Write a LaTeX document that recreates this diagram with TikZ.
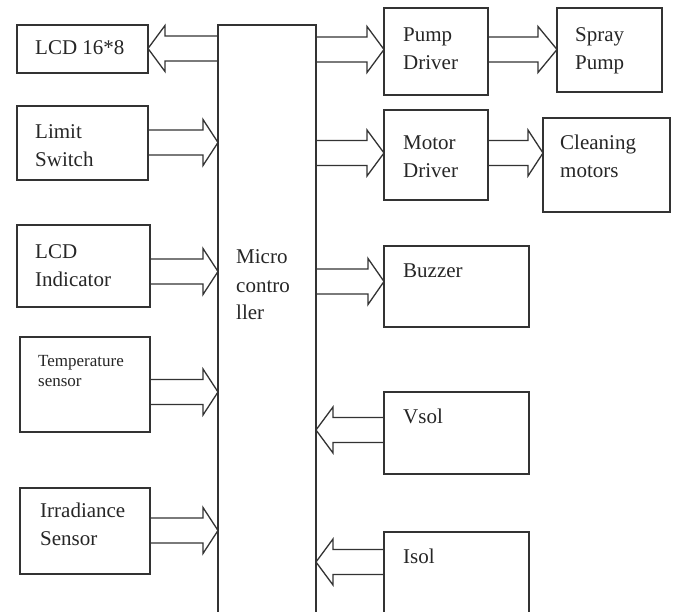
\documentclass[tikz,border=0pt]{standalone}
\usepackage{fontspec}
\setmainfont{Liberation Serif}
\usetikzlibrary{calc}
\definecolor{linec}{gray}{0.2}
\newcommand\bigfont{\fontsize{21}{28}\selectfont}
\newcommand\smallfont{\fontsize{17}{20}\selectfont}
% #1 start anchor, #2 tip anchor, #3 y centre, #4 signed head length
\newcommand\fatarr[4]{%
  \draw[arrline] ($(#1|-0,#3)+(0,12.5)$) -- ($(#2|-0,#3)+(-#4,12.5)$) -- ($(#2|-0,#3)+(-#4,23)$)
   -- (#2|-0,#3) -- ($(#2|-0,#3)+(-#4,-23)$) -- ($(#2|-0,#3)+(-#4,-12.5)$) -- ($(#1|-0,#3)+(0,-12.5)$);}
\begin{document}
\begin{tikzpicture}[x=1pt,y=1pt,
  box/.style={draw=linec,line width=1.3pt,inner sep=0pt,outer sep=0pt,anchor=north west},
  openbox/.style={inner sep=0pt,outer sep=0pt,anchor=north west},
  lbl/.style={anchor=base west,inner sep=0pt,font=\bigfont,align=left,text=black!85},
  slbl/.style={anchor=base west,inner sep=0pt,font=\smallfont,align=left,text=black!85},
  arrline/.style={draw=linec,line width=1.3pt,line join=miter}]
\useasboundingbox[fill=white] (0,0) rectangle (675,-612);
% left boxes
\node[box,minimum width=131,minimum height=48] (lcd) at (17,-25) {};
\node[box,minimum width=131,minimum height=74] (limit) at (17,-106) {};
\node[box,minimum width=133,minimum height=82] (lcdind) at (17,-225) {};
\node[box,minimum width=130,minimum height=95] (temp) at (20,-337) {};
\node[box,minimum width=130,minimum height=86] (irr) at (20,-488) {};
% micro controller (open at the bottom)
\node[openbox,minimum width=98,minimum height=590] (micro) at (218,-25) {};
\draw[linec,line width=1.3pt] (micro.south west) -- (micro.north west) -- (micro.north east) -- (micro.south east);
% right boxes
\node[box,minimum width=104,minimum height=87] (pump) at (384,-8) {};
\node[box,minimum width=105,minimum height=84] (spray) at (557,-8) {};
\node[box,minimum width=104,minimum height=90] (motor) at (384,-110) {};
\node[box,minimum width=127,minimum height=94] (clean) at (543,-118) {};
\node[box,minimum width=145,minimum height=81] (buzzer) at (384,-246) {};
\node[box,minimum width=145,minimum height=82] (vsol) at (384,-392) {};
\node[openbox,minimum width=145,minimum height=84] (isol) at (384,-532) {};
\draw[linec,line width=1.3pt] (isol.south west) -- (isol.north west) -- (isol.north east) -- (isol.south east);
% labels (multi-line labels are placed by the baseline of their last line)
\node[lbl] (lcdt) at (35,-55) {LCD 16*8};
\node[lbl] (limitt) at (35,-167) {Limit\\Switch};
\node[lbl] (lcdindt) at (35,-287) {LCD\\Indicator};
\node[slbl] (tempt) at (38,-386) {Temperature\\sensor};
\node[lbl] (irrt) at (40,-545) {Irradiance\\Sensor};
\node[lbl] (microt) at (236,-320) {Micro\\contro\\ller};
\node[lbl] (pumpt) at (403,-70) {Pump\\Driver};
\node[lbl] (sprayt) at (575,-70) {Spray\\Pump};
\node[lbl] (motort) at (403,-178) {Motor\\Driver};
\node[lbl] (cleant) at (560,-178) {Cleaning\\motors};
\node[lbl] (buzzert) at (403,-278) {Buzzer};
\node[lbl] (vsolt) at (403,-424) {Vsol};
\node[lbl] (isolt) at (403,-563) {Isol};
% arrows
\fatarr{micro.west}{lcd.east}{-48.5}{-17}
\fatarr{limit.east}{micro.west}{-142.5}{15}
\fatarr{lcdind.east}{micro.west}{-271.5}{15}
\fatarr{temp.east}{micro.west}{-392}{15}
\fatarr{irr.east}{micro.west}{-530.5}{15}
\fatarr{micro.east}{pump.west}{-49.5}{17}
\fatarr{pump.east}{spray.west}{-49.5}{19}
\fatarr{micro.east}{motor.west}{-153}{17}
\fatarr{motor.east}{clean.west}{-153}{15}
\fatarr{micro.east}{buzzer.west}{-281.5}{16}
\fatarr{vsol.west}{micro.east}{-430}{-17}
\fatarr{isol.west}{micro.east}{-562}{-17}
\end{tikzpicture}
\end{document}
